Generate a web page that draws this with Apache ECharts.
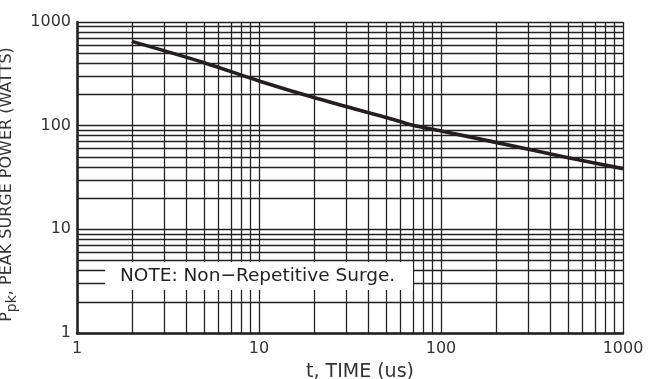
<!DOCTYPE html>
<html>
<head>
<meta charset="utf-8">
<script src="https://cdn.jsdelivr.net/npm/echarts@6/dist/echarts.min.js"></script>
<style>html,body{margin:0;padding:0;background:#fff}#c{width:651px;height:379px}</style>
</head>
<body>
<div id="c"></div>
<script>
// Pulse time (us) and peak surge power (W)
var timeUs = [2, 5, 10, 20, 50, 70, 100, 200, 500, 1000];
var powerW = [650, 405, 270, 187, 120, 101, 89, 69, 49, 38.5];
// Log grid lines (1..9 per decade)
var gridX = [1,2,3,4,5,6,7,8,9,10,20,30,40,50,60,70,80,90,100,200,300,400,500,600,700,800,900,1000];
var gridY = [1,2,3,4,5,6,7,8,9,10,20,30,40,50,60,70,80,90,100,200,300,400,500,600,700,800,900,1000];
var xTicks = [1, 10, 100, 1000];
var yTicks = [1, 10, 100, 1000];
var noteText = 'NOTE: Non\u2212Repetitive Surge.';

var chart = echarts.init(document.getElementById('c'), null, {renderer: 'canvas'});
var font = 'DejaVu Sans';
var gridLines = [];
gridX.forEach(function (v) { gridLines.push({xAxis: v}); });
gridY.forEach(function (v) { gridLines.push({yAxis: v}); });

chart.setOption({
  animation: false,
  backgroundColor: '#fff',
  grid: {left: 77, right: 28, top: 22, bottom: 46, containLabel: false, outerBoundsMode: 'none'},
  xAxis: {
    type: 'log', logBase: 10, min: 1, max: 1000,
    name: 't, TIME (us)', nameLocation: 'middle', nameGap: 30,
    nameTextStyle: {fontFamily: font, fontSize: 19, color: '#333', padding: [0, 0, 0, 20]},
    axisLine: {show: true, lineStyle: {color: '#222', width: 2.5}},
    axisTick: {show: false},
    splitLine: {show: false},
    axisLabel: {fontFamily: font, fontSize: 16, color: '#333', margin: 8,
      formatter: function (v) { return xTicks.indexOf(Math.round(v)) >= 0 ? String(Math.round(v)) : ''; }}
  },
  yAxis: {
    type: 'log', logBase: 10, min: 1, max: 1000,
    name: 'P{s|pk}, PEAK SURGE POWER (WATTS)', nameLocation: 'middle', nameGap: 49, nameRotate: 90,
    nameTextStyle: {fontFamily: font, fontSize: 16, color: '#333', padding: [0, 14, 0, 0],
      rich: {s: {fontFamily: font, fontSize: 14, color: '#333', verticalAlign: 'bottom', padding: [11, 0, 0, 0]}}},
    axisLine: {show: true, lineStyle: {color: '#222', width: 2.5}},
    axisTick: {show: false},
    splitLine: {show: false},
    axisLabel: {fontFamily: font, fontSize: 16, color: '#333', margin: 6,
      formatter: function (v) { return yTicks.indexOf(Math.round(v)) >= 0 ? String(Math.round(v)) : ''; }}
  },
  graphic: [
    {type: 'rect', z: 100, zlevel: 0, shape: {x: 105, y: 262, width: 308, height: 28}, style: {fill: '#fff'}},
    {type: 'text', z: 101, zlevel: 0, x: 120, y: 276, style: {text: noteText, fontFamily: font, fontSize: 18.5, fill: '#222', verticalAlign: 'middle'}}
  ],
  series: [
    {
      type: 'line', data: [], z: 1, silent: true,
      markLine: {silent: true, symbol: ['none', 'none'], label: {show: false},
        lineStyle: {color: '#222', width: 1.3, type: 'solid'}, emphasis: {disabled: true},
        data: gridLines}
    },
    {
      type: 'line', z: 10,
      data: timeUs.map(function (t, i) { return [t, powerW[i]]; }),
      showSymbol: false, smooth: 0.3,
      lineStyle: {color: '#231f20', width: 3.6}
    }
  ]
});
</script>
</body>
</html>
